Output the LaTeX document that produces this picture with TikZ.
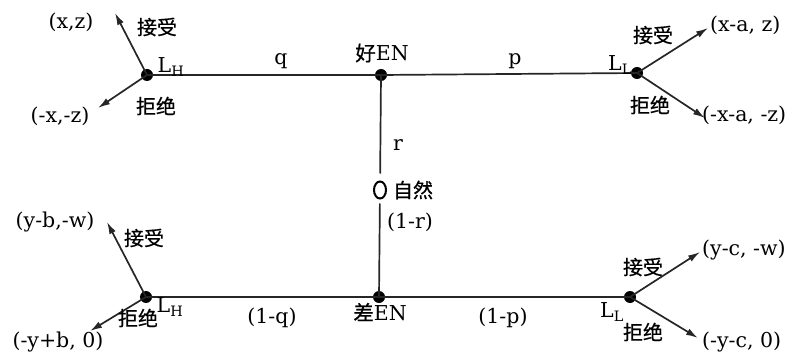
\documentclass[tikz,border=0pt]{standalone}
\usepackage{fontspec}
\setmainfont{DejaVu Serif}
\newfontfamily\cjk[FakeBold=0.6]{Noto Sans CJK SC}
\usetikzlibrary{arrows.meta,shapes.geometric}
\tikzset{
  dotnode/.style={circle,fill=black,inner sep=0pt,minimum size=12pt},
  chance/.style={ellipse,draw=black,line width=2pt,inner sep=0pt,minimum width=12pt,minimum height=17pt},
  edge/.style={line width=1.7pt,draw=black!85},
  arr/.style={line width=1.7pt,draw=black!85,-{Latex[length=12pt,width=7pt]}},
  lbl/.style={inner sep=0pt,font=\fontsize{20.5}{22}\selectfont},
  clbl/.style={inner sep=0pt,font=\fontsize{20}{22}\selectfont\cjk}
}
\begin{document}
\begin{tikzpicture}[x=1pt,y=-1pt]
\useasboundingbox (0,0) rectangle (810,355);
% decision nodes
\node[dotnode] (tl) at (147,75) {};
\node[dotnode] (tm) at (381,75) {};
\node[dotnode] (tr) at (637,73) {};
\node[chance] (nat) at (380,190) {};
\node[dotnode] (bl) at (146,297) {};
\node[dotnode] (bm) at (379,297) {};
\node[dotnode] (br) at (630,297) {};
% payoff arrow ends
\coordinate (tla) at (115,13);
\coordinate (tlr) at (98,108);
\coordinate (tra) at (708,28);
\coordinate (trr) at (705,118);
\coordinate (bla) at (107,222);
\coordinate (blr) at (90,331);
\coordinate (bra) at (700,252);
\coordinate (brr) at (698,338);
% lines
\draw[edge] (tl.center) -- (tm.center) -- (tr.center);
\draw[edge] (bl.center) -- (bm.center) -- (br.center);
\draw[edge,shorten >=7pt] (tm.center) -- (nat);
\draw[edge,shorten <=4pt] (nat) -- (bm.center);
\draw[arr] (tl.center) -- (tla);
\draw[arr] (tl.center) -- (tlr);
\draw[arr] (tr.center) -- (tra);
\draw[arr] (tr.center) -- (trr);
\draw[arr] (bl.center) -- (bla);
\draw[arr] (bl.center) -- (blr);
\draw[arr] (br.center) -- (bra);
\draw[arr] (br.center) -- (brr);
% labels top
\node[lbl] (t1) at (71,22) {(x,z)};
\node[clbl] (t2) at (157,27) {接受};
\node[lbl] (t3) at (171,67) {L\textsubscript{H}};
\node[clbl] (t4) at (156,106) {拒绝};
\node[lbl] (t5) at (60,116) {(-x,-z)};
\node[lbl] (t6) at (281,61) {q};
\node[lbl] (t7) at (382,53) {{\cjk 好}EN};
\node[lbl] (t8) at (515,61) {p};
\node[clbl] (t9) at (653,35) {接受};
\node[lbl] (t10) at (620,65) {L\textsubscript{L}};
\node[clbl] (t11) at (650,105) {拒绝};
\node[lbl,anchor=west] (t12) at (710,25) {(x-a, z)};
\node[lbl,anchor=west] (t13) at (702,115) {(-x-a, -z)};
% middle
\node[lbl] (m1) at (398,145) {r};
\node[clbl] (m2) at (413,190) {自然};
\node[lbl] (m3) at (410,222) {(1-r)};
% labels bottom
\node[lbl] (b1) at (55,222) {(y-b,-w)};
\node[clbl] (b2) at (144,238) {接受};
\node[lbl] (b3) at (170,307) {L\textsubscript{H}};
\node[clbl] (b4) at (138,318) {拒绝};
\node[lbl] (b5) at (58,342) {(-y+b, 0)};
\node[lbl] (b6) at (272,318) {(1-q)};
\node[lbl] (b7) at (380,312) {{\cjk 差}EN};
\node[lbl] (b8) at (503,318) {(1-p)};
\node[clbl] (b9) at (643,267) {接受};
\node[lbl] (b10) at (612,312) {L\textsubscript{L}};
\node[clbl] (b11) at (643,332) {拒绝};
\node[lbl,anchor=west] (b12) at (702,250) {(y-c, -w)};
\node[lbl,anchor=west] (b13) at (702,342) {(-y-c, 0)};
\end{tikzpicture}
\end{document}
